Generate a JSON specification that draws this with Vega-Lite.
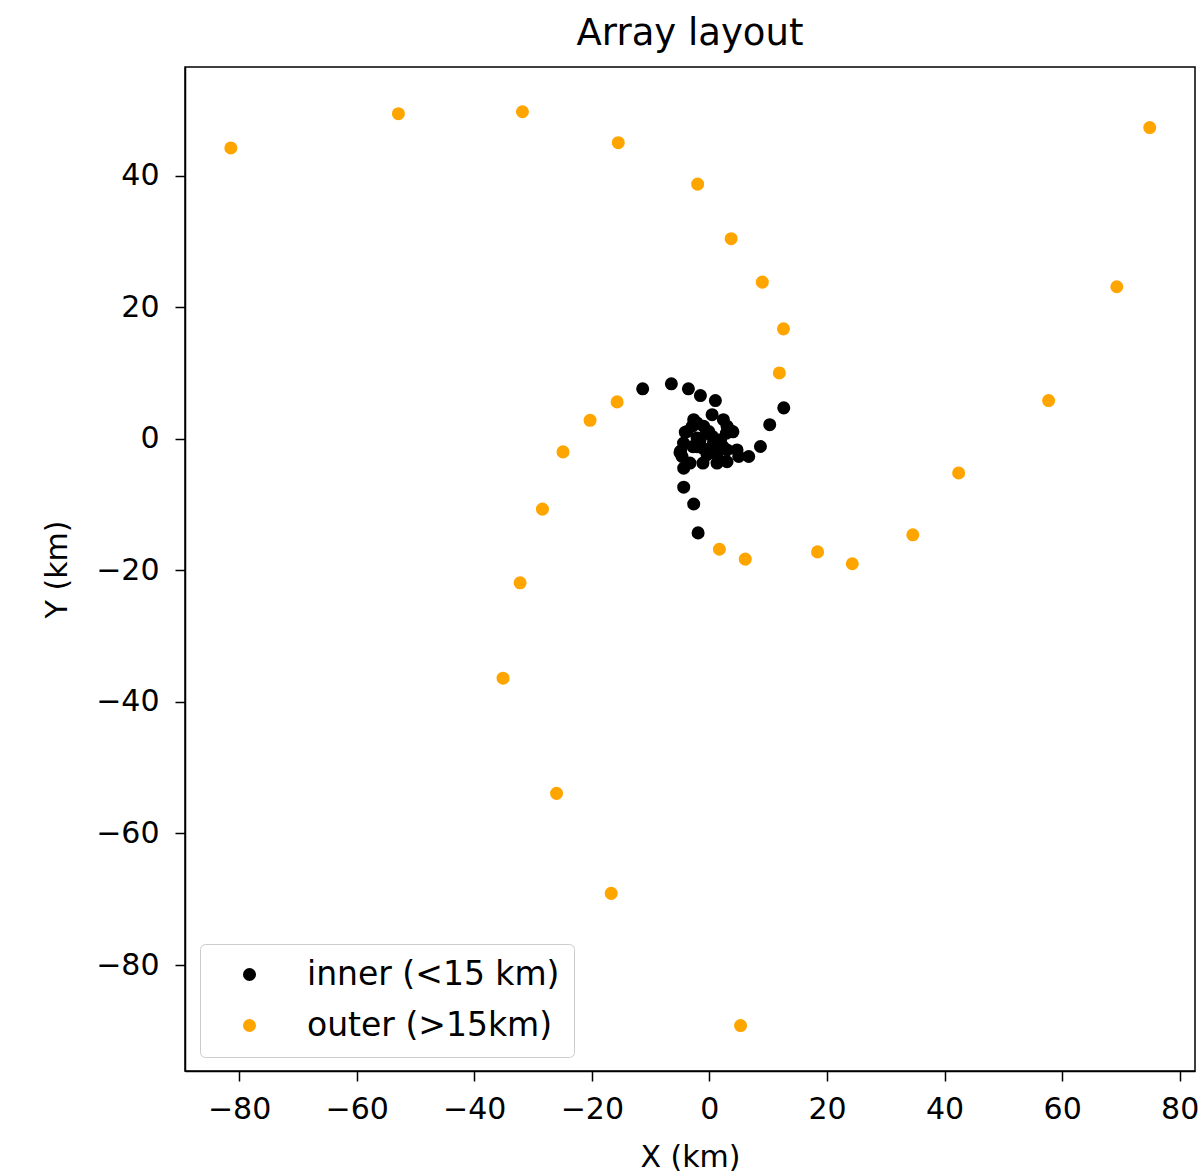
{
  "$schema": "https://vega.github.io/schema/vega-lite/v6.json",
  "width": 1010,
  "height": 1004,
  "autosize": {"type": "none"},
  "padding": {"left": 185, "top": 67, "right": 5, "bottom": 104},
  "background": "white",
  "config": {
    "font": "DejaVu Sans",
    "view": {"stroke": "black", "strokeWidth": 1.5},
    "axis": {"grid": false, "domainColor": "black", "domainWidth": 1.5, "tickColor": "black", "tickWidth": 1.5, "tickSize": 10, "labelFontSize": 30, "labelColor": "#000", "titleFontSize": 30, "titleFontWeight": "normal", "titleColor": "#000", "labelFont": "DejaVu Sans", "titleFont": "DejaVu Sans"}
  },
  "title": {"text": "Array layout", "fontSize": 37, "fontWeight": "normal", "font": "DejaVu Sans", "color": "#000", "offset": 14},
  "data": {"values": [
    {"x": -11.35, "y": 7.59, "group": "inner (<15 km)"},
    {"x": -6.47, "y": 8.35, "group": "inner (<15 km)"},
    {"x": -3.57, "y": 7.59, "group": "inner (<15 km)"},
    {"x": -1.53, "y": 6.56, "group": "inner (<15 km)"},
    {"x": 1.02, "y": 5.8, "group": "inner (<15 km)"},
    {"x": 0.46, "y": 3.66, "group": "inner (<15 km)"},
    {"x": -2.67, "y": 2.9, "group": "inner (<15 km)"},
    {"x": 2.38, "y": 2.9, "group": "inner (<15 km)"},
    {"x": 3.86, "y": 1.11, "group": "inner (<15 km)"},
    {"x": 12.65, "y": 4.69, "group": "inner (<15 km)"},
    {"x": 10.26, "y": 2.14, "group": "inner (<15 km)"},
    {"x": 8.68, "y": -1.18, "group": "inner (<15 km)"},
    {"x": 6.69, "y": -2.7, "group": "inner (<15 km)"},
    {"x": 4.99, "y": -2.7, "group": "inner (<15 km)"},
    {"x": 1.58, "y": -3.21, "group": "inner (<15 km)"},
    {"x": -4.65, "y": -2.7, "group": "inner (<15 km)"},
    {"x": -4.37, "y": -4.47, "group": "inner (<15 km)"},
    {"x": -4.37, "y": -7.37, "group": "inner (<15 km)"},
    {"x": -2.67, "y": -9.92, "group": "inner (<15 km)"},
    {"x": -1.92, "y": -14.31, "group": "inner (<15 km)"},
    {"x": -3.8, "y": 1.1, "group": "inner (<15 km)"},
    {"x": -2.1, "y": 0.1, "group": "inner (<15 km)"},
    {"x": -0.1, "y": 1.1, "group": "inner (<15 km)"},
    {"x": 1.9, "y": -0.15, "group": "inner (<15 km)"},
    {"x": -4.4, "y": -0.66, "group": "inner (<15 km)"},
    {"x": -1.2, "y": -1.4, "group": "inner (<15 km)"},
    {"x": 0.7, "y": -0.66, "group": "inner (<15 km)"},
    {"x": 3.0, "y": -1.7, "group": "inner (<15 km)"},
    {"x": -4.9, "y": -1.9, "group": "inner (<15 km)"},
    {"x": -0.4, "y": -2.4, "group": "inner (<15 km)"},
    {"x": 1.6, "y": -1.7, "group": "inner (<15 km)"},
    {"x": -2.9, "y": 1.9, "group": "inner (<15 km)"},
    {"x": -1.0, "y": 1.9, "group": "inner (<15 km)"},
    {"x": 3.0, "y": 1.9, "group": "inner (<15 km)"},
    {"x": -2.1, "y": -1.2, "group": "inner (<15 km)"},
    {"x": 0.5, "y": 0.35, "group": "inner (<15 km)"},
    {"x": -4.1, "y": 1.0, "group": "inner (<15 km)"},
    {"x": -2.1, "y": 2.4, "group": "inner (<15 km)"},
    {"x": -0.5, "y": 0.85, "group": "inner (<15 km)"},
    {"x": 2.9, "y": 0.85, "group": "inner (<15 km)"},
    {"x": 4.0, "y": 1.05, "group": "inner (<15 km)"},
    {"x": -5.0, "y": -2.1, "group": "inner (<15 km)"},
    {"x": -2.8, "y": -1.2, "group": "inner (<15 km)"},
    {"x": 0.1, "y": -2.1, "group": "inner (<15 km)"},
    {"x": 2.3, "y": -1.2, "group": "inner (<15 km)"},
    {"x": 4.7, "y": -1.7, "group": "inner (<15 km)"},
    {"x": -1.1, "y": -3.7, "group": "inner (<15 km)"},
    {"x": 1.3, "y": -3.7, "group": "inner (<15 km)"},
    {"x": 3.0, "y": -3.5, "group": "inner (<15 km)"},
    {"x": -3.3, "y": -3.7, "group": "inner (<15 km)"},
    {"x": -1.6, "y": -0.2, "group": "inner (<15 km)"},
    {"x": 1.3, "y": -0.6, "group": "inner (<15 km)"},
    {"x": -81.4, "y": 44.2, "group": "outer (>15km)"},
    {"x": -52.9, "y": 49.4, "group": "outer (>15km)"},
    {"x": -31.8, "y": 49.7, "group": "outer (>15km)"},
    {"x": -15.5, "y": 45.0, "group": "outer (>15km)"},
    {"x": -2.0, "y": 38.7, "group": "outer (>15km)"},
    {"x": 3.7, "y": 30.4, "group": "outer (>15km)"},
    {"x": 9.0, "y": 23.8, "group": "outer (>15km)"},
    {"x": 12.6, "y": 16.7, "group": "outer (>15km)"},
    {"x": 11.9, "y": 10.0, "group": "outer (>15km)"},
    {"x": 74.9, "y": 47.3, "group": "outer (>15km)"},
    {"x": 69.3, "y": 23.1, "group": "outer (>15km)"},
    {"x": 57.7, "y": 5.8, "group": "outer (>15km)"},
    {"x": 42.4, "y": -5.2, "group": "outer (>15km)"},
    {"x": 34.6, "y": -14.6, "group": "outer (>15km)"},
    {"x": 24.3, "y": -19.0, "group": "outer (>15km)"},
    {"x": 18.4, "y": -17.2, "group": "outer (>15km)"},
    {"x": 6.1, "y": -18.3, "group": "outer (>15km)"},
    {"x": 1.7, "y": -16.8, "group": "outer (>15km)"},
    {"x": -15.7, "y": 5.6, "group": "outer (>15km)"},
    {"x": -20.3, "y": 2.8, "group": "outer (>15km)"},
    {"x": -24.9, "y": -2.0, "group": "outer (>15km)"},
    {"x": -28.4, "y": -10.7, "group": "outer (>15km)"},
    {"x": -32.2, "y": -21.9, "group": "outer (>15km)"},
    {"x": -35.1, "y": -36.4, "group": "outer (>15km)"},
    {"x": -26.0, "y": -53.9, "group": "outer (>15km)"},
    {"x": -16.7, "y": -69.1, "group": "outer (>15km)"},
    {"x": 5.3, "y": -89.2, "group": "outer (>15km)"}
  ]},
  "mark": {"type": "point", "filled": true, "size": 170, "opacity": 1, "strokeWidth": 0},
  "encoding": {
    "x": {"field": "x", "type": "quantitative", "title": "X (km)",
      "scale": {"domain": [-89.2, 82.6], "nice": false, "zero": false},
      "axis": {"values": [-80, -60, -40, -20, 0, 20, 40, 60, 80], "labelPadding": 13, "titlePadding": 18, "labelExpr": "replace(datum.label, '-', '\u2212')"}},
    "y": {"field": "y", "type": "quantitative", "title": "Y (km)",
      "scale": {"domain": [-96.1, 56.5], "nice": false, "zero": false},
      "axis": {"values": [-80, -60, -40, -20, 0, 20, 40], "labelPadding": 16, "titlePadding": 23, "labelExpr": "replace(datum.label, '-', '\u2212')"}},
    "color": {"field": "group", "type": "nominal",
      "scale": {"domain": ["inner (<15 km)", "outer (>15km)"], "range": ["#000000", "#FFA500"]},
      "legend": {"title": null, "orient": "none", "legendX": 15, "legendY": 877,
        "labelFontSize": 33, "labelColor": "#000", "labelFont": "DejaVu Sans", "labelOffset": 41, "labelLimit": 500,
        "symbolSize": 170, "symbolType": "circle", "symbolStrokeWidth": 0, "symbolOffset": 19,
        "rowPadding": 17, "padding": 14, "strokeColor": "#cccccc", "fillColor": "white", "cornerRadius": 5}}
  }
}
